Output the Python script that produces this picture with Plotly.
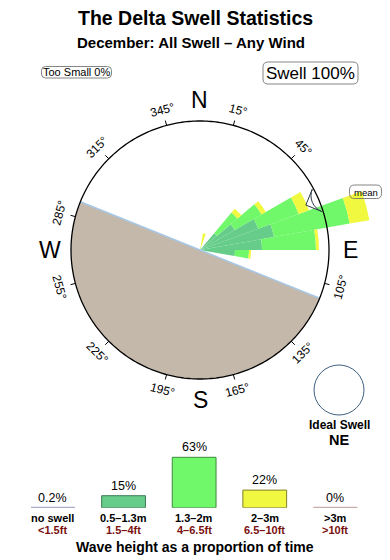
import math
import plotly.graph_objects as go

W, H = 390, 560
FONT = "Liberation Sans, Arial, Helvetica, sans-serif"

# ---------------- data ----------------
title_text = "The Delta Swell Statistics"
subtitle_text = "December: All Swell – Any Wind"
too_small_text = "Too Small 0%"
swell_text = "Swell 100%"
ideal_dir_text = "NE"

# swell rose: direction bins (deg) and segment lengths per height band
rose_dirs = [15, 45, 55, 65, 75, 85, 95]
rose_small = [0, 22, 40, 62, 75, 62, 35]   # 0.5-1.3m
rose_mid = [3, 27, 31, 43, 77, 54, 14]     # 1.3-2m
rose_big = [14, 5, 5, 11, 20, 3, 2]        # 2-3m
rose_bin_width = 10
mean_dir = 67

# land sector (bearing range) shaded on the compass
land_from, land_to = 112, 292

# compass
compass_r = 129
deg_labels = [15, 45, 105, 135, 165, 195, 225, 255, 285, 315, 345]
cardinals = [("N", 0), ("E", 90), ("S", 180), ("W", 270)]

# wave-height histogram
hist_vals = [0.2, 15, 63, 22, 0]
hist_m = ["no swell", "0.5–1.3m", "1.3–2m", "2–3m", ">3m"]
hist_ft = ["<1.5ft", "1.5–4ft", "4–6.5ft", "6.5–10ft", ">10ft"]
hist_fill = ["#a9a9c9", "#66cc8a", "#70f86a", "#f0f840", "#c4aca4"]
hist_edge = ["#a9a9c9", "#3d7a55", "#3c8a3c", "#80802a", "#c4aca4"]
hist_caption = "Wave height as a proportion of time"

# ---------------- geometry helpers ----------------
CX, CY = 200, 250          # compass centre (px)
RMAX = 180                 # radial range == px radius of the polar domain


def px(x):
    return x / W


def py(y):
    return 1 - y / H


def polar_xy(r, b):
    return CX + r * math.sin(math.radians(b)), CY - r * math.cos(math.radians(b))


def rrect(x0, y0, x1, y1, rad=4):
    pts = [
        f"M{px(x0 + rad)},{py(y0)}",
        f"L{px(x1 - rad)},{py(y0)}",
        f"Q{px(x1)},{py(y0)} {px(x1)},{py(y0 + rad)}",
        f"L{px(x1)},{py(y1 - rad)}",
        f"Q{px(x1)},{py(y1)} {px(x1 - rad)},{py(y1)}",
        f"L{px(x0 + rad)},{py(y1)}",
        f"Q{px(x0)},{py(y1)} {px(x0)},{py(y1 - rad)}",
        f"L{px(x0)},{py(y0 + rad)}",
        f"Q{px(x0)},{py(y0)} {px(x0 + rad)},{py(y0)}",
        "Z",
    ]
    return dict(type="path", xref="paper", yref="paper", path=" ".join(pts),
                line=dict(color="#666666", width=0.8), fillcolor="rgba(255,255,255,0)")


fig = go.Figure()

# land half-disk
fig.add_trace(go.Barpolar(
    r=[compass_r], theta=[(land_from + land_to) / 2], width=[land_to - land_from],
    marker=dict(color="#c4b8ab", line=dict(width=0)), hoverinfo="skip", showlegend=False))

# rose wedges (stacked)
for vals, col in [(rose_small, "#66cc8a"), (rose_mid, "#70f86a"), (rose_big, "#f0f840")]:
    fig.add_trace(go.Barpolar(
        r=vals, theta=rose_dirs, width=[rose_bin_width] * len(rose_dirs),
        marker=dict(color=col, line=dict(width=0)), hoverinfo="skip", showlegend=False))

# coast line along the land edge
fig.add_trace(go.Scatterpolar(
    r=[compass_r, 0, compass_r], theta=[land_to, land_to, land_from], mode="lines",
    line=dict(color="#a6c8e6", width=1.5), hoverinfo="skip", showlegend=False))

# compass ring
ring_theta = list(range(0, 361))
fig.add_trace(go.Scatterpolar(
    r=[compass_r] * len(ring_theta), theta=ring_theta, mode="lines",
    line=dict(color="black", width=1.3), hoverinfo="skip", showlegend=False))

# tick marks
tr, tt = [], []
for a in deg_labels:
    tr += [compass_r, compass_r + 5, None]
    tt += [a, a, None]
fig.add_trace(go.Scatterpolar(
    r=tr, theta=tt, mode="lines", line=dict(color="black", width=1),
    hoverinfo="skip", showlegend=False))

# mean arrow
fig.add_trace(go.Scatterpolar(
    r=[115], theta=[mean_dir], mode="markers",
    marker=dict(symbol="arrow-wide", size=17, angle=mean_dir + 180, color="white",
                line=dict(color="#2a3a4a", width=1)),
    hoverinfo="skip", showlegend=False))

# histogram
xs = list(range(len(hist_vals)))
bw = 0.62
fig.add_trace(go.Bar(
    x=xs, y=[v if v >= 1 else 0 for v in hist_vals], width=bw,
    marker=dict(color=hist_fill, line=dict(color=hist_edge, width=1)),
    xaxis="x", yaxis="y", hoverinfo="skip", showlegend=False))
for i, v in enumerate(hist_vals):
    if v < 1:
        fig.add_trace(go.Scatter(
            x=[i - bw / 2, i + bw / 2], y=[0, 0], mode="lines",
            line=dict(color=hist_fill[i], width=2),
            xaxis="x", yaxis="y", hoverinfo="skip", showlegend=False))

ann = []
shapes = []


def text(x, y, s, size, bold=False, color="black", angle=0, xref="paper"):
    if bold:
        s = f"<b>{s}</b>"
    ann.append(dict(x=x, y=y, xref=xref, yref="paper", text=s, showarrow=False,
                    textangle=angle, xanchor="center", yanchor="middle",
                    font=dict(family=FONT, size=size, color=color)))


# titles
text(px(195), py(18), title_text, 19.5, bold=True)
text(px(191), py(42.5), subtitle_text, 15, bold=True)

# boxes
shapes.append(rrect(41.5, 66.5, 111.5, 78))
text(px(76.5), py(72.5), too_small_text, 11)
shapes.append(rrect(263, 62, 358, 84, 5))
text(px(310.5), py(73.5), swell_text, 17)

# cardinal letters
for lab, b in cardinals:
    x, y = polar_xy(150, b)
    text(px(x), py(y), lab, 23)

# degree labels
for b in deg_labels:
    x, y = polar_xy(145, b)
    ang = b if (b <= 90 or b >= 270) else b - 180
    if ang > 180:
        ang -= 360
    text(px(x), py(y), f"{b}°", 12, angle=ang)

# mean label
shapes.append(rrect(349.5, 185, 381.5, 198.5, 5))
text(px(365.5), py(192), "mean", 9.5)

# ideal swell
shapes.append(dict(type="circle", xref="paper", yref="paper",
                   x0=px(339 - 25), x1=px(339 + 25), y0=py(390 - 25), y1=py(390 + 25),
                   line=dict(color="#3e5f80", width=1)))
text(px(339), py(424.5), "Ideal Swell", 12, bold=True)
text(px(339), py(439.5), ideal_dir_text, 14.5, bold=True)

# histogram labels
for i, v in enumerate(hist_vals):
    ann.append(dict(x=i, y=v if v >= 1 else 0, xref="x", yref="y",
                    text=f"{v:g}%", showarrow=False, xanchor="center", yanchor="bottom",
                    yshift=1, font=dict(family=FONT, size=12.5, color="black")))
    text(i, py(518.3), hist_m[i], 11, bold=True, xref="x")
    text(i, py(530.2), hist_ft[i], 11, bold=True, color="#7a1010", xref="x")
text(px(195), py(546.5), hist_caption, 14, bold=True)

fig.update_layout(
    width=W, height=H, margin=dict(l=0, r=0, t=0, b=0),
    paper_bgcolor="white", plot_bgcolor="white",
    font=dict(family=FONT),
    polar=dict(
        domain=dict(x=[px(CX - RMAX), px(CX + RMAX)], y=[py(CY + RMAX), py(CY - RMAX)]),
        bgcolor="rgba(0,0,0,0)",
        barmode="stack",
        radialaxis=dict(visible=False, range=[0, RMAX], showgrid=False, showline=False),
        angularaxis=dict(visible=False, direction="clockwise", rotation=90,
                         showgrid=False, showline=False, ticks=""),
    ),
    xaxis=dict(domain=[0, 388.3 / W], range=[-0.75, 4.75], visible=False, fixedrange=True),
    yaxis=dict(domain=[py(507.7), py(507.7 - 56)], range=[0, 70], visible=False, fixedrange=True),
    annotations=ann,
    shapes=shapes,
    showlegend=False,
)

fig.write_html("out.html")
